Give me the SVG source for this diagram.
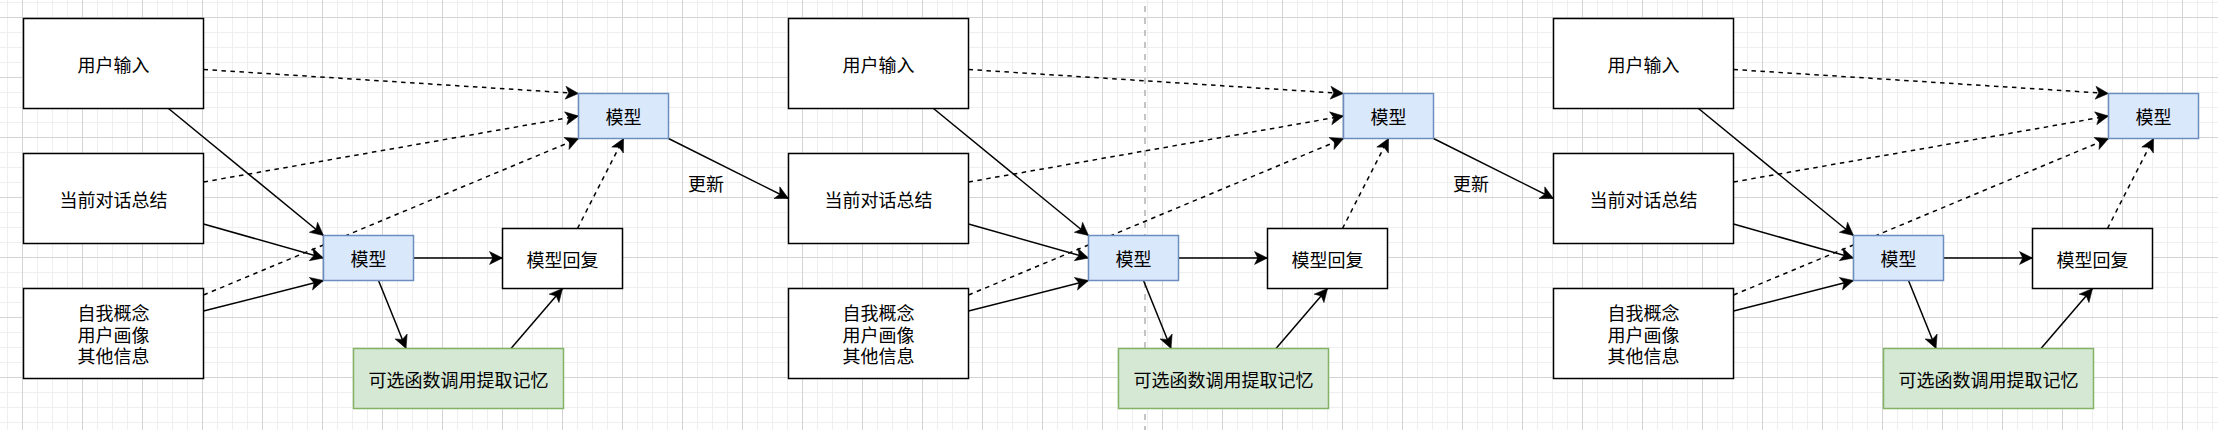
<svg xmlns="http://www.w3.org/2000/svg" width="2218" height="430" viewBox="0 0 2218 430">
<style>
  .box{fill:#ffffff;stroke:#000000;stroke-width:1.5}
  .blue{fill:#dae8fc;stroke:#6c8ebf;stroke-width:1.5}
  .green{fill:#d5e8d4;stroke:#82b366;stroke-width:1.5}
  .t{font-family:"Noto Sans CJK SC","Noto Sans",sans-serif;font-size:18px;fill:#000000;text-anchor:middle;dominant-baseline:central}
  .ln{fill:none;stroke:#000000;stroke-width:1.5;marker-end:url(#arr)}
  .dash{stroke-dasharray:4.5 4.5}
</style>
<defs>
  <pattern id="gminor" x="22" y="17" width="15" height="15" patternUnits="userSpaceOnUse">
    <path d="M0.5,0 V15 M0,0.5 H15" stroke="#efefef" stroke-width="1" fill="none"/>
  </pattern>
  <pattern id="gmajor" x="22" y="17" width="60" height="60" patternUnits="userSpaceOnUse">
    <path d="M0.5,0 V60 M0,0.5 H60" stroke="#d4d4d4" stroke-width="1" fill="none"/>
  </pattern>
  <marker id="arr" markerUnits="userSpaceOnUse" markerWidth="16" markerHeight="16" refX="13" refY="7" orient="auto" overflow="visible">
    <path d="M13,7 L0,0.5 L3.25,7 L0,13.5 Z" fill="#000000" stroke="#000000" stroke-width="0.5"/>
  </marker>
</defs>
<rect width="2218" height="430" fill="#ffffff"/>
<rect width="2218" height="430" fill="url(#gminor)"/>
<rect width="2218" height="430" fill="url(#gmajor)"/>
<line x1="1145" y1="0" x2="1145" y2="430" stroke="#c4c4c4" stroke-width="2" stroke-dasharray="6 6" stroke-dashoffset="6"/>

<g id="connectors">
  <path class="ln dash" d="M203.5,69.5 L578.5,93.5"/>
  <path class="ln dash" d="M203.5,182 L578.5,116"/>
  <path class="ln dash" d="M203.5,295 L578.5,138.5"/>
  <path class="ln" d="M168.5,108.5 L323.5,235.5"/>
  <path class="ln" d="M203.5,224 L323.5,258"/>
  <path class="ln" d="M203.5,311 L323.5,280.5"/>
  <path class="ln" d="M413.5,258 L502.5,258"/>
  <path class="ln" d="M378.5,280.5 L406,348.5"/>
  <path class="ln" d="M511,348.5 L562.5,288.5"/>
  <path class="ln dash" d="M577.5,228.5 L623.5,138.5"/>
  <path class="ln" d="M668.5,138.5 L788.5,198.5"/>
  <text class="t" x="706" y="183">更新</text>

  <path class="ln dash" d="M968.5,69.5 L1343.5,93.5"/>
  <path class="ln dash" d="M968.5,182 L1343.5,116"/>
  <path class="ln dash" d="M968.5,295 L1343.5,138.5"/>
  <path class="ln" d="M933.5,108.5 L1088.5,235.5"/>
  <path class="ln" d="M968.5,224 L1088.5,258"/>
  <path class="ln" d="M968.5,311 L1088.5,280.5"/>
  <path class="ln" d="M1178.5,258 L1267.5,258"/>
  <path class="ln" d="M1143.5,280.5 L1171,348.5"/>
  <path class="ln" d="M1276,348.5 L1327.5,288.5"/>
  <path class="ln dash" d="M1342.5,228.5 L1388.5,138.5"/>
  <path class="ln" d="M1433.5,138.5 L1553.5,198.5"/>
  <text class="t" x="1471" y="183">更新</text>

  <path class="ln dash" d="M1733.5,69.5 L2108.5,93.5"/>
  <path class="ln dash" d="M1733.5,182 L2108.5,116"/>
  <path class="ln dash" d="M1733.5,295 L2108.5,138.5"/>
  <path class="ln" d="M1698.5,108.5 L1853.5,235.5"/>
  <path class="ln" d="M1733.5,224 L1853.5,258"/>
  <path class="ln" d="M1733.5,311 L1853.5,280.5"/>
  <path class="ln" d="M1943.5,258 L2032.5,258"/>
  <path class="ln" d="M1908.5,280.5 L1936,348.5"/>
  <path class="ln" d="M2041,348.5 L2092.5,288.5"/>
  <path class="ln dash" d="M2107.5,228.5 L2153.5,138.5"/>
</g>

<!-- Panel 1 -->
<g id="p1-user-input"><rect class="box" x="23.5" y="18.5" width="180" height="90"/><text class="t" x="113.5" y="63.5">用户输入</text></g>
<g id="p1-summary"><rect class="box" x="23.5" y="153.5" width="180" height="90"/><text class="t" x="113.5" y="198.5">当前对话总结</text></g>
<g id="p1-profile"><rect class="box" x="23.5" y="288.5" width="180" height="90"/><text class="t" x="113.5" y="312"><tspan x="113.5" y="312">自我概念</tspan><tspan x="113.5" y="333.5">用户画像</tspan><tspan x="113.5" y="355">其他信息</tspan></text></g>
<g id="p1-model"><rect class="blue" x="323.5" y="235.5" width="90" height="45"/><text class="t" x="368.5" y="258">模型</text></g>
<g id="p1-reply"><rect class="box" x="502.5" y="228.5" width="120" height="60"/><text class="t" x="562.5" y="258.5">模型回复</text></g>
<g id="p1-func"><rect class="green" x="353.5" y="348.5" width="210" height="60"/><text class="t" x="458.5" y="378.5">可选函数调用提取记忆</text></g>
<g id="p1-model-top"><rect class="blue" x="578.5" y="93.5" width="90" height="45"/><text class="t" x="623.5" y="116">模型</text></g>

<!-- Panel 2 -->
<g id="p2-user-input"><rect class="box" x="788.5" y="18.5" width="180" height="90"/><text class="t" x="878.5" y="63.5">用户输入</text></g>
<g id="p2-summary"><rect class="box" x="788.5" y="153.5" width="180" height="90"/><text class="t" x="878.5" y="198.5">当前对话总结</text></g>
<g id="p2-profile"><rect class="box" x="788.5" y="288.5" width="180" height="90"/><text class="t" x="878.5" y="312"><tspan x="878.5" y="312">自我概念</tspan><tspan x="878.5" y="333.5">用户画像</tspan><tspan x="878.5" y="355">其他信息</tspan></text></g>
<g id="p2-model"><rect class="blue" x="1088.5" y="235.5" width="90" height="45"/><text class="t" x="1133.5" y="258">模型</text></g>
<g id="p2-reply"><rect class="box" x="1267.5" y="228.5" width="120" height="60"/><text class="t" x="1327.5" y="258.5">模型回复</text></g>
<g id="p2-func"><rect class="green" x="1118.5" y="348.5" width="210" height="60"/><text class="t" x="1223.5" y="378.5">可选函数调用提取记忆</text></g>
<g id="p2-model-top"><rect class="blue" x="1343.5" y="93.5" width="90" height="45"/><text class="t" x="1388.5" y="116">模型</text></g>

<!-- Panel 3 -->
<g id="p3-user-input"><rect class="box" x="1553.5" y="18.5" width="180" height="90"/><text class="t" x="1643.5" y="63.5">用户输入</text></g>
<g id="p3-summary"><rect class="box" x="1553.5" y="153.5" width="180" height="90"/><text class="t" x="1643.5" y="198.5">当前对话总结</text></g>
<g id="p3-profile"><rect class="box" x="1553.5" y="288.5" width="180" height="90"/><text class="t" x="1643.5" y="312"><tspan x="1643.5" y="312">自我概念</tspan><tspan x="1643.5" y="333.5">用户画像</tspan><tspan x="1643.5" y="355">其他信息</tspan></text></g>
<g id="p3-model"><rect class="blue" x="1853.5" y="235.5" width="90" height="45"/><text class="t" x="1898.5" y="258">模型</text></g>
<g id="p3-reply"><rect class="box" x="2032.5" y="228.5" width="120" height="60"/><text class="t" x="2092.5" y="258.5">模型回复</text></g>
<g id="p3-func"><rect class="green" x="1883.5" y="348.5" width="210" height="60"/><text class="t" x="1988.5" y="378.5">可选函数调用提取记忆</text></g>
<g id="p3-model-top"><rect class="blue" x="2108.5" y="93.5" width="90" height="45"/><text class="t" x="2153.5" y="116">模型</text></g>
</svg>
